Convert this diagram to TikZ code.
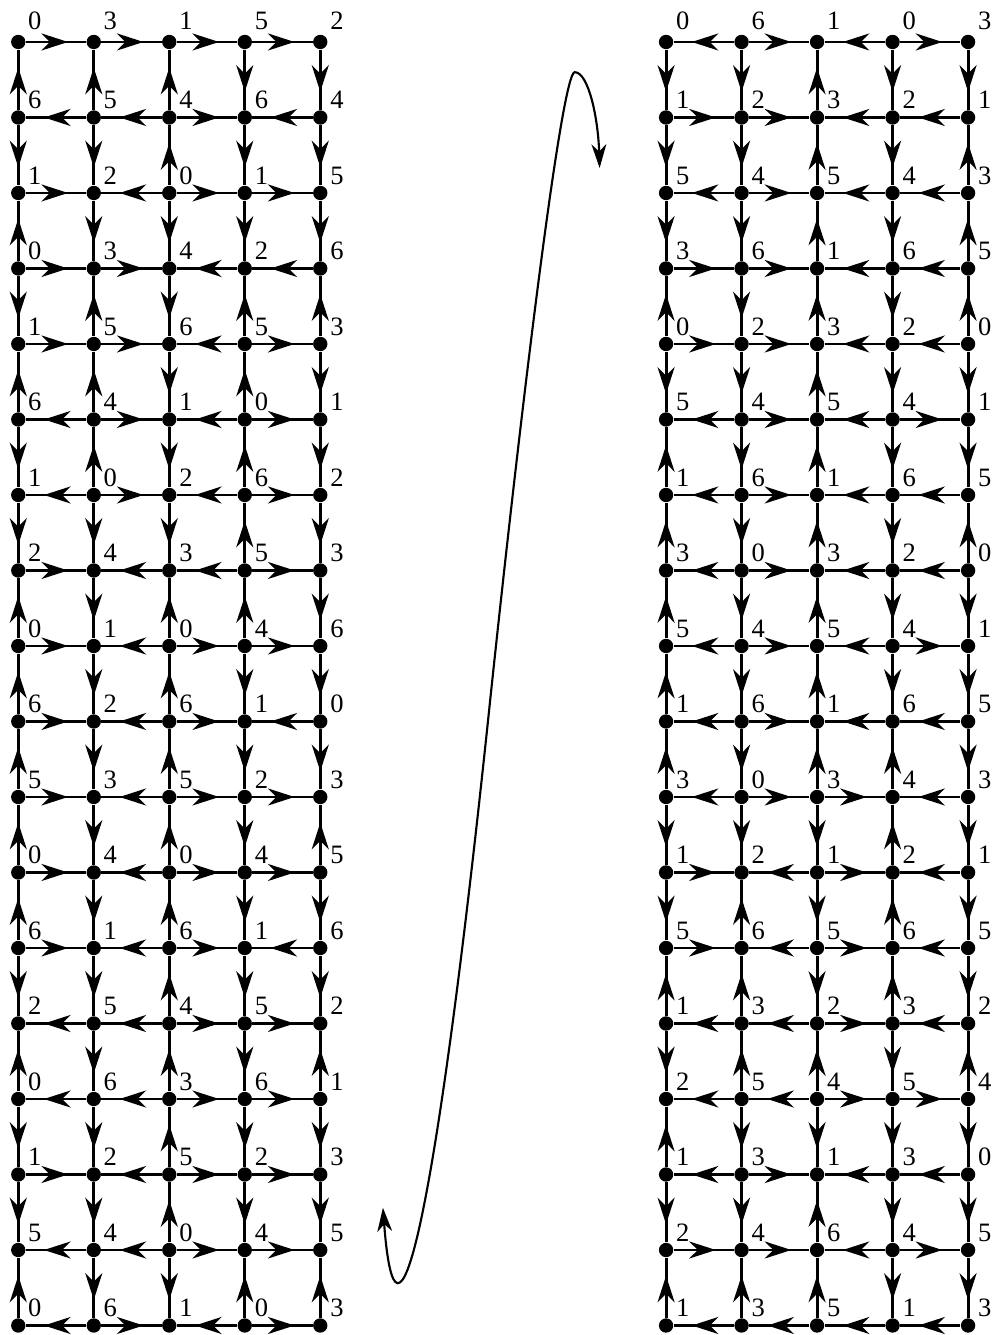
\documentclass[tikz,border=0pt]{standalone}
\usepackage{fontspec}
\setmainfont{Liberation Serif}
\usetikzlibrary{arrows.meta,decorations.markings}
\tikzset{
  dot/.style={circle,fill=black,inner sep=0pt,minimum size=0.19cm},
  digit/.style={font=\fontsize{10}{12}\selectfont,inner sep=0pt,text=black},
  gridline/.style={line width=1.1pt,postaction={decorate}},
  fwd/.style={gridline,decoration={markings,
    mark=at position 0.7 with {\arrow{Stealth[length=10pt,width=6.4pt,inset=3.2pt]}}}},
  bwd/.style={gridline,decoration={markings,
    mark=at position 0.3 with {\arrowreversed{Stealth[length=10pt,width=6.4pt,inset=3.2pt]}}}},
  go r/.style={fwd},go d/.style={fwd},
  go l/.style={bwd},go u/.style={bwd},
  swing/.style={{Stealth[length=9pt,width=5.6pt,inset=2.8pt]}-{Stealth[length=9pt,width=5.6pt,inset=2.8pt]},
    line width=0.8pt},
}
\newcommand{\drawgrid}[3]{%
  \foreach \labs/\hors/\vers [count=\r from 0] in {#3}{
    \foreach \d [count=\c from 0] in \labs
      \node[dot] (#1-\r-\c) at (#2+\c,-\r) {};
  }
  \foreach \labs/\hors/\vers [count=\r from 0] in {#3}{
    \pgfmathsetmacro\ly{\r==0 ? 0.28 : 0.23}
    \foreach \d [count=\c from 0] in \labs
      \node[digit] (#1-t-\r-\c) at ([shift={(0.22,\ly)}]#1-\r-\c) {\d};
    \foreach \h [count=\c from 0] in \hors{
      \pgfmathtruncatemacro\cc{\c+1}
      \draw[go \h] (#1-\r-\c) -- (#1-\r-\cc);
    }
    \ifnum\r<17
      \pgfmathtruncatemacro\rr{\r+1}
      \foreach \v [count=\c from 0] in \vers
        \draw[go \v] (#1-\r-\c) -- (#1-\rr-\c);
    \fi
  }
}
\begin{document}
\begin{tikzpicture}
  \useasboundingbox (-0.242,-17.126) rectangle (12.924,0.556);
  \drawgrid{L}{0}{%
    {0,3,1,5,2}/{r,r,r,r}/{u,u,u,d,d},%
    {6,5,4,6,4}/{l,l,r,l}/{d,d,u,d,d},%
    {1,2,0,1,5}/{r,l,r,r}/{u,d,d,d,d},%
    {0,3,4,2,6}/{r,r,l,l}/{d,u,d,u,u},%
    {1,5,6,5,3}/{r,r,l,r}/{u,u,d,u,d},%
    {6,4,1,0,1}/{l,r,l,r}/{d,u,d,u,d},%
    {1,0,2,6,2}/{l,r,l,r}/{d,d,d,u,d},%
    {2,4,3,5,3}/{r,l,l,r}/{u,d,u,u,d},%
    {0,1,0,4,6}/{r,l,r,r}/{u,d,u,d,d},%
    {6,2,6,1,0}/{r,l,r,l}/{u,d,u,d,d},%
    {5,3,5,2,3}/{r,l,r,r}/{u,d,u,d,u},%
    {0,4,0,4,5}/{r,l,r,r}/{u,d,u,d,d},%
    {6,1,6,1,6}/{r,l,r,l}/{d,d,u,d,d},%
    {2,5,4,5,2}/{l,l,r,r}/{u,d,u,d,u},%
    {0,6,3,6,1}/{l,l,r,r}/{d,d,u,d,d},%
    {1,2,5,2,3}/{r,l,r,r}/{d,d,u,d,d},%
    {5,4,0,4,5}/{l,l,r,r}/{u,d,d,u,u},%
    {0,6,1,0,3}/{l,r,l,r}/{x}%
  }
  \drawgrid{R}{8.58}{%
    {0,6,1,0,3}/{l,r,l,r}/{d,d,u,d,d},%
    {1,2,3,2,1}/{r,r,l,l}/{d,d,u,d,u},%
    {5,4,5,4,3}/{l,r,l,l}/{d,d,u,d,u},%
    {3,6,1,6,5}/{r,r,l,l}/{u,d,u,d,u},%
    {0,2,3,2,0}/{r,r,l,l}/{d,d,u,d,d},%
    {5,4,5,4,1}/{l,r,l,r}/{u,d,u,d,d},%
    {1,6,1,6,5}/{l,r,l,l}/{u,d,u,d,u},%
    {3,0,3,2,0}/{l,r,l,l}/{u,d,u,d,d},%
    {5,4,5,4,1}/{l,r,l,r}/{u,d,u,d,d},%
    {1,6,1,6,5}/{l,r,l,l}/{u,d,u,u,d},%
    {3,0,3,4,3}/{l,r,r,l}/{d,d,d,u,d},%
    {1,2,1,2,1}/{r,l,r,l}/{d,u,d,u,d},%
    {5,6,5,6,5}/{r,l,r,l}/{u,u,d,u,d},%
    {1,3,2,3,2}/{l,l,r,l}/{d,u,u,d,u},%
    {2,5,4,5,4}/{l,l,r,r}/{u,d,d,d,d},%
    {1,3,1,3,0}/{l,r,l,l}/{d,d,u,d,d},%
    {2,4,6,4,5}/{r,r,l,r}/{u,u,u,d,d},%
    {1,3,5,1,3}/{l,l,l,l}/{x}%
  }
  \coordinate (swing-start) at (4.83,-15.44);
  \coordinate (swing-mid) at (6.25,-8.72);
  \coordinate (swing-top) at (7.37,-0.40);
  \coordinate (swing-end) at (7.70,-1.67);
  \draw[swing] (swing-start) .. controls (5.0,-17.7) and (5.5,-15.9) .. (swing-mid)
    .. controls (6.67,-4.74) and (7.2,-0.4) .. (swing-top)
    .. controls (7.55,-0.4) and (7.68,-1.0) .. (swing-end);
\end{tikzpicture}
\end{document}
